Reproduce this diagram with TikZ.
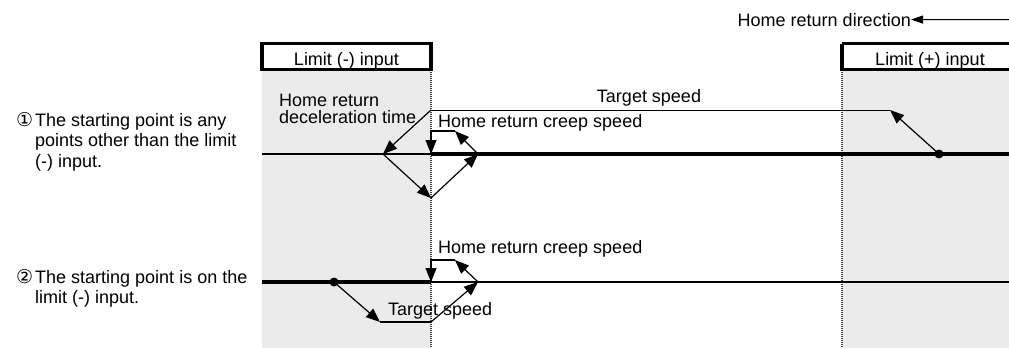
\documentclass[tikz,border=0pt]{standalone}
\usepackage{fontspec}
\setmainfont{Liberation Sans}
\newfontfamily\circfont{DejaVu Sans}
\usetikzlibrary{arrows.meta}

\begin{document}
\begin{tikzpicture}[x=1pt,y=-1pt,
    arr/.style={-{Triangle[length=14pt,width=11pt]},line width=1.2pt},
    sig/.style={line width=1.2pt},
    lbl/.style={inner sep=0pt,font=\fontsize{18}{17}\selectfont},
    lim/.style={line width=3.5pt},
    edge/.style={dash pattern=on 1pt off 1pt,line width=1.2pt,black!75}]
    \useasboundingbox (0,0) rectangle (1009,348);
    \fill[black!8] (262,70) rectangle (431,348);
    \fill[black!8] (842,70) rectangle (1009,348);
    \draw[edge] (431,70) -- (431,348);
    \draw[edge] (842,70) -- (842,348);
    \draw[line width=1.8pt] (262,154) -- (431,154);
    \draw[line width=4pt] (431,154) -- (1009,154);
    \draw[line width=4pt] (262,282) -- (431,282);
    \draw[line width=1.8pt] (431,282) -- (1009,282);
    \draw[lim,fill=white] (262,43.5) rectangle (431,69.5);
    \draw[lim,fill=white] (842,43.5) -- (1012,43.5) (842,43.5) -- (842,69.5) -- (1012,69.5);
    \node[lbl,anchor=base] (limn) at (346.5,65) {Limit (-) input};
    \node[lbl,anchor=base] (limp) at (930,65) {Limit (+) input};
    \node[lbl,anchor=base east] (dir) at (911,26) {Home return direction};
    \coordinate (dirr) at (1009,19.5);
    \draw[-{Triangle[length=12pt,width=8pt]},line width=1pt] (dirr) -- (dir.east);
    % case 1
    \node[lbl,anchor=base west] (n1) at (16,126) {\circfont\fontsize{19}{19}\selectfont ①};
    \node[lbl,anchor=north west,align=left,font=\fontsize{18}{20.5}\selectfont] (txt1) at (35,113)
      {The starting point is any\\points other than the limit\\(-) input.};
    \coordinate (a0) at (939,154);
    \coordinate (a1) at (890,110);
    \coordinate (a2) at (431,110);
    \coordinate (a3) at (383,154);
    \coordinate (a4) at (431,198);
    \coordinate (a5) at (478,154);
    \coordinate (a6) at (455,131);
    \coordinate (a7) at (431,131);
    \coordinate (a8) at (431,154);
    \fill (a0) circle (4.5pt);
    \draw[arr] (a0) -- (a1);
    \draw[line width=1pt] (a1) -- (a2);
    \draw[arr] (a2) -- (a3);
    \draw[arr] (a3) -- (a4);
    \draw[arr] (a4) -- (a5);
    \draw[arr] (a5) -- (a6);
    \draw[arr] (a6) -- (a7) -- (a8);
    \node[lbl,anchor=base] (tgt1) at (649,102) {Target speed};
    \node[lbl,anchor=base west] (creep1) at (438,127) {Home return creep speed};
    \node[lbl,anchor=north west,align=left] (dec) at (279,94) {Home return\\deceleration time};
    % case 2
    \node[lbl,anchor=base west] (n2) at (16,283) {\circfont\fontsize{19}{19}\selectfont ②};
    \node[lbl,anchor=north west,align=left,font=\fontsize{18}{20.5}\selectfont] (txt2) at (35,270)
      {The starting point is on the\\limit (-) input.};
    \coordinate (b0) at (334,282);
    \coordinate (b1) at (380,322);
    \coordinate (b2) at (431,322);
    \coordinate (b3) at (478,282);
    \coordinate (b4) at (455,260);
    \coordinate (b5) at (431,260);
    \coordinate (b6) at (431,282);
    \fill (b0) circle (4.5pt);
    \draw[arr] (b0) -- (b1);
    \draw[sig] (b1) -- (b2);
    \draw[arr] (b2) -- (b3);
    \draw[arr] (b3) -- (b4);
    \draw[arr] (b4) -- (b5) -- (b6);
    \node[lbl,anchor=base west] (creep2) at (438,253) {Home return creep speed};
    \node[lbl,anchor=base west] (tgt2) at (388,315) {Target speed};
\end{tikzpicture}
\end{document}
